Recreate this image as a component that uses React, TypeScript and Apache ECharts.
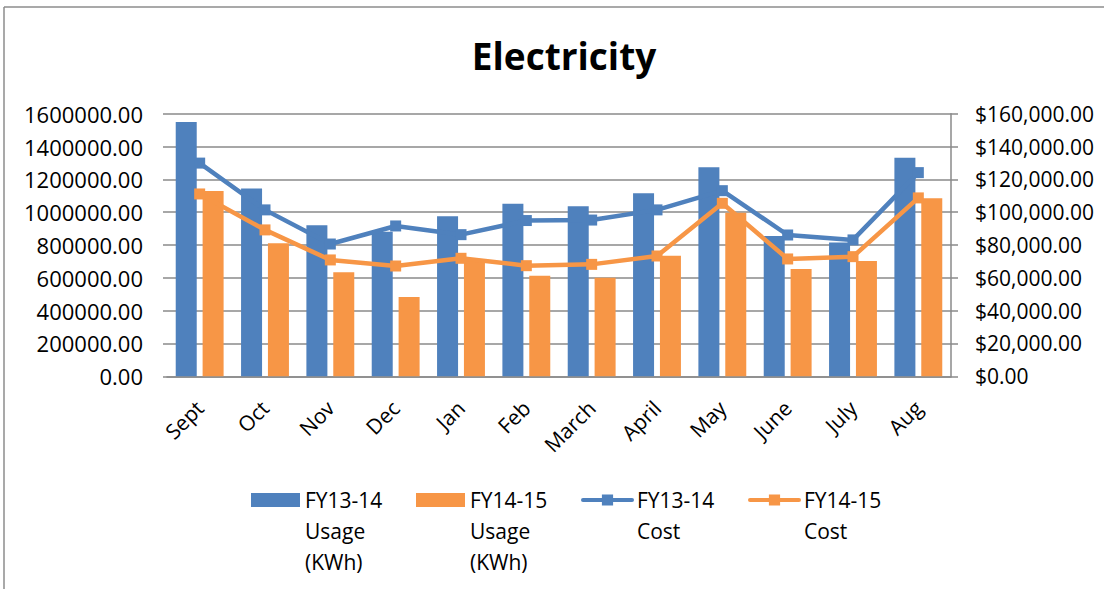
import React, { useEffect, useRef } from 'react';
import * as echarts from 'echarts';

const categories = ['Sept', 'Oct', 'Nov', 'Dec', 'Jan', 'Feb', 'March', 'April', 'May', 'June', 'July', 'Aug'];
const usageFY1314 = [1550000, 1145000, 920000, 880000, 975000, 1052000, 1036000, 1115000, 1273000, 855000, 815000, 1332000];
const usageFY1415 = [1129000, 810000, 634000, 483000, 715000, 613000, 601000, 735000, 997000, 654000, 703000, 1085000];
const costFY1314 = [129900, 101400, 80600, 91600, 86300, 94900, 95200, 101400, 113100, 86100, 83100, 124100];
const costFY1415 = [111100, 89200, 70900, 67200, 71900, 67400, 68200, 73300, 105400, 71500, 72900, 108700];

const NAME_U1 = 'FY13-14\nUsage\n(KWh)';
const NAME_U2 = 'FY14-15\nUsage\n(KWh)';
const NAME_C1 = 'FY13-14\nCost';
const NAME_C2 = 'FY14-15\nCost';

const BLUE = '#4F81BD';
const ORANGE = '#F79646';
const GRID = '#8a8a8a';
const FONT = '"Open Sans", "Noto Sans", sans-serif';

export default function App() {
  const ref = useRef<HTMLDivElement>(null);
  useEffect(() => {
    const chart = echarts.init(ref.current!, null, { renderer: 'svg' });
    chart.setOption({
      animation: false,
      backgroundColor: '#ffffff',
      textStyle: { fontFamily: FONT, color: '#000' },
      title: {
        text: 'Electricity',
        left: 559,
        textAlign: 'center',
        top: 32,
        textStyle: { fontFamily: FONT, fontSize: 37, fontWeight: 'bold', color: '#000' },
      },
      graphic: [
        { type: 'line', shape: { x1: 4, y1: 7, x2: 1104, y2: 7 }, style: { stroke: '#8c8c8c', lineWidth: 1.5 } },
        { type: 'line', shape: { x1: 4, y1: 7, x2: 4, y2: 589 }, style: { stroke: '#8c8c8c', lineWidth: 1.5 } },
      ],
      legend: {
        orient: 'horizontal',
        left: 251,
        top: 422.5,
        padding: 0,
        itemGap: 29,
        itemWidth: 49,
        itemHeight: 14,
        textStyle: { fontFamily: FONT, fontSize: 21, color: '#000', lineHeight: 31, width: 82 },
        lineStyle: { width: 4, cap: 'round' },
        formatter: (name: string) => {
          const lines = name.split('\n').length;
          return '\n'.repeat(lines - 1) + name;
        },
        data: [
          { name: NAME_U1, icon: 'rect' },
          { name: NAME_U2, icon: 'rect' },
          { name: NAME_C1 },
          { name: NAME_C2 },
        ],
      },
      grid: { left: 167, right: 153, top: 113.7, bottom: 212.7, containLabel: false },
      xAxis: {
        type: 'category',
        data: categories,
        axisLine: { show: true, lineStyle: { color: GRID, width: 1.5 } },
        axisTick: { show: false },
        axisLabel: { rotate: 45, margin: 28, fontFamily: FONT, fontSize: 21, color: '#000', interval: 0 },
      },
      yAxis: [
        {
          type: 'value',
          min: 0,
          max: 1600000,
          interval: 200000,
          position: 'left',
          axisLine: { show: false },
          axisTick: { show: true, length: 4, lineStyle: { color: GRID, width: 1.5 } },
          splitLine: { show: true, lineStyle: { color: GRID, width: 1.5 } },
          axisLabel: {
            margin: 24,
            fontFamily: FONT,
            fontSize: 22,
            color: '#000',
            formatter: (v: number) => v.toFixed(2),
          },
        },
        {
          type: 'value',
          min: 0,
          max: 160000,
          interval: 20000,
          position: 'right',
          axisLine: { show: true, lineStyle: { color: GRID, width: 1.5 } },
          axisTick: { show: true, length: 7, lineStyle: { color: GRID, width: 1.5 } },
          splitLine: { show: false },
          axisLabel: {
            margin: 24,
            fontFamily: FONT,
            fontSize: 21,
            color: '#000',
            formatter: (v: number) =>
              '$' + v.toLocaleString('en-US', { minimumFractionDigits: 2, maximumFractionDigits: 2 }),
          },
        },
      ],
      series: [
        {
          name: NAME_U1,
          type: 'bar',
          yAxisIndex: 0,
          data: usageFY1314,
          barWidth: 21,
          barGap: '28%',
          itemStyle: { color: BLUE },
        },
        {
          name: NAME_U2,
          type: 'bar',
          yAxisIndex: 0,
          data: usageFY1415,
          barWidth: 21,
          barGap: '28%',
          itemStyle: { color: ORANGE },
        },
        {
          name: NAME_C1,
          type: 'line',
          yAxisIndex: 1,
          data: costFY1314,
          symbol: 'rect',
          symbolSize: 11,
          lineStyle: { color: BLUE, width: 4.5 },
          itemStyle: { color: BLUE },
        },
        {
          name: NAME_C2,
          type: 'line',
          yAxisIndex: 1,
          data: costFY1415,
          symbol: 'rect',
          symbolSize: 11,
          lineStyle: { color: ORANGE, width: 4.5 },
          itemStyle: { color: ORANGE },
        },
      ],
    });
    return () => chart.dispose();
  }, []);
  return (
    <div
      ref={ref}
      style={{ position: 'fixed', left: 0, top: 0, width: 1104, height: 589, background: '#fff' }}
    />
  );
}
